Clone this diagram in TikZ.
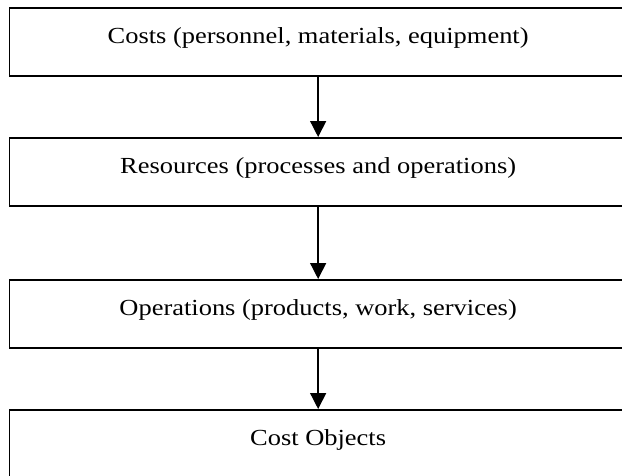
\documentclass[tikz,border=0pt]{standalone}
\usepackage{fontspec}
\setmainfont{Liberation Serif}[FakeStretch=1.15]
\usetikzlibrary{arrows.meta}
\begin{document}
\begin{tikzpicture}[x=1pt,y=-1pt,
  stage/.style={draw=black, line width=1.8pt, minimum width=617.5pt, minimum height=68pt,
    inner sep=0pt, anchor=north west},
  caption/.style={anchor=base, font=\fontsize{23}{27}\selectfont, inner sep=0pt},
  flow/.style={draw=black, line width=1.4pt, -{Triangle[width=16pt,length=16pt]}}]
  \useasboundingbox (0,0) rectangle (622,475);
  \clip (0,0) rectangle (622,475);
  % four stacked boxes, cut at the right and bottom edges
  \node[stage] (costs) at (8.5,7) {};
  \node[stage] (resources) at (8.5,137) {};
  \node[stage] (operations) at (8.5,279) {};
  \node[stage] (objects) at (8.5,409) {};
  % captions
  \node[caption] (tcosts) at ([yshift=-36pt]costs.north) {Costs (personnel, materials, equipment)};
  \node[caption] (tresources) at ([yshift=-36pt]resources.north) {Resources (processes and operations)};
  \node[caption] (toperations) at ([yshift=-36pt]operations.north) {Operations (products, work, services)};
  \node[caption] (tobjects) at ([yshift=-36pt]objects.north) {Cost Objects};
  % arrows between the boxes
  \draw[flow] (costs.south) -- (resources.north);
  \draw[flow] (resources.south) -- (operations.north);
  \draw[flow] (operations.south) -- (objects.north);
\end{tikzpicture}
\end{document}
